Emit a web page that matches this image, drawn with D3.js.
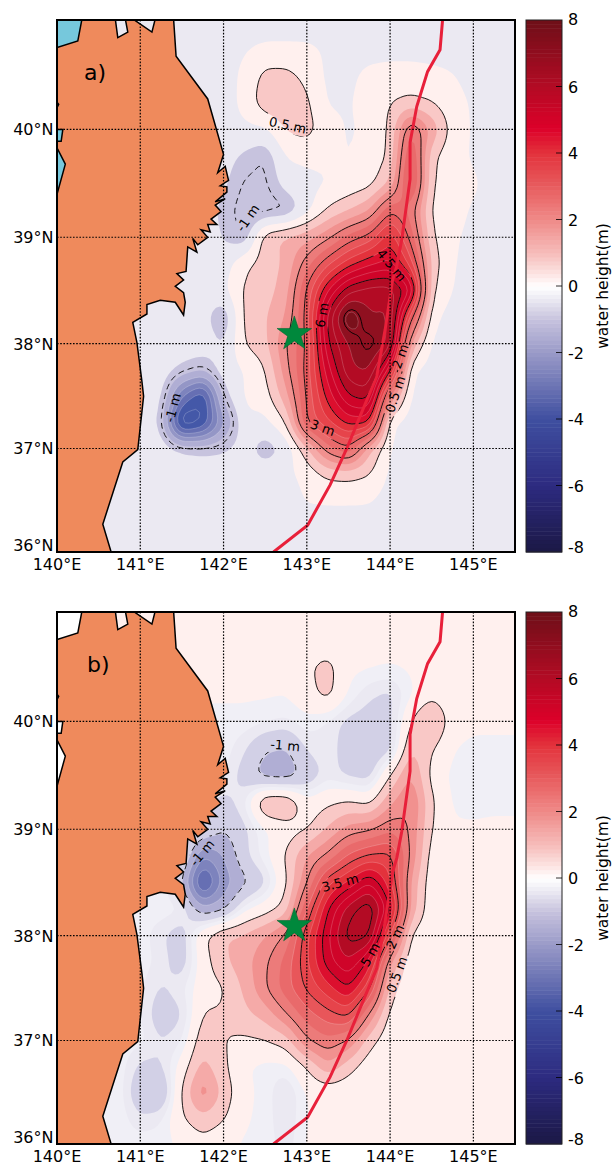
<!DOCTYPE html>
<html><head><meta charset="utf-8">
<script src="https://cdn.jsdelivr.net/npm/d3@7"></script>
<style>html,body{margin:0;padding:0;background:#fff}svg{display:block}text{font-family:"DejaVu Sans",sans-serif;fill:#000}</style>
</head><body><svg id="c" width="613" height="1166"></svg>
<script>
const lons = d3.range(0,23).map(i=>140+i*0.25);
const lats = d3.range(0,21).map(i=>41-i*0.25);
const lonTicks=[140,141,142,143,144,145];
const latTicks=[36,37,38,39,40];
const barTicks=[-8,-6,-4,-2,0,2,4,6,8];
const n=-.2;
const heightA=[
[n,n,n,n,n,n,n,n,n,n,n,n,n,n,n,n,n,n,n,n,n,n,n],
[n,n,n,n,n,n,n,n,n,-.05,.05,.05,.05,-.05,n,n,n,n,n,n,n,n,n],
[n,n,n,n,n,n,n,n,n,.1,.65,.65,.35,-.1,-.1,.12,.2,.2,.12,.02,-.15,n,n],
[n,n,n,n,n,n,n,n,n,.12,.85,.95,.6,-.05,-.05,.2,.48,.6,.48,.15,-.05,n,n],
[n,n,n,n,n,n,n,n,-.1,-.1,-.1,.55,.7,.2,-.05,.08,.55,2.6,1.4,.25,-.05,n,n],
[n,n,n,n,n,n,n,n,-.3,-.6,-.85,.03,.12,.08,-.02,.18,.55,3.3,.6,.15,-.05,n,n],
[n,n,n,n,n,n,n,n,-.4,-.87,-.88,-.3,-.15,-.01,.12,.3,1,3.5,.5,.15,.08,n,n],
[n,n,n,n,n,n,n,n,-.65,-.98,-.98,-.95,-.2,.55,.95,1.45,3,2.3,.35,.15,-.05,n,n],
[n,n,n,n,n,n,n,-.15,-.55,-.85,.8,1.1,1.3,1.85,2.7,3.2,4.4,2.8,.55,.06,-.1,n,n],
[n,n,n,n,n,n,n,n,-.25,.4,.72,1.1,2.3,3.4,4.3,4.9,5.2,3.8,.8,.02,-.15,n,n],
[n,n,n,n,n,n,n,n,-.1,.58,.78,1.25,3.1,5,6.4,6.8,6.8,5.8,.5,-.02,n,n,n],
[n,n,n,n,n,n,n,-.3,-.95,.62,.95,1.5,3.2,6.2,8.1,7,7.1,3.2,.15,n,n,n,n],
[n,n,n,n,n,n,n,n,-.55,.52,.85,2,3,6,7,7.7,7,1.3,-.1,n,n,n,n],
[n,n,n,n,n,n,-.6,-.85,n,-.01,.45,1.8,3.2,5.3,6.9,7.1,4.8,.05,n,n,n,n,n],
[n,n,n,n,n,-.35,-2.5,-3.6,-.7,.06,.25,1.3,3.1,4.7,6,6.3,1.9,-.1,n,n,n,n,n],
[n,n,n,n,n,-.55,-4.2,-3.6,-1.6,-.1,-.15,.45,3.1,3.9,4.7,4.7,.05,n,n,n,n,n,n],
[n,n,n,n,n,n,-.5,-.6,-.55,-.3,-.78,-.4,.85,2.3,3,1.1,-.05,n,n,n,n,n,n],
[n,n,n,n,n,n,n,n,n,n,n,-.1,.12,.6,.65,.5,-.1,n,n,n,n,n,n],
[n,n,n,n,n,n,n,n,n,n,n,n,.03,.04,.04,.03,n,n,n,n,n,n,n],
[n,n,n,n,n,n,n,n,n,n,n,n,n,n,n,n,n,n,n,n,n,n,n],
[n,n,n,n,n,n,n,n,n,n,n,n,n,n,n,n,n,n,n,n,n,n,n]];
const p=.1, m=-.1;
const heightB=[
[p,p,p,p,p,p,p,p,p,p,p,p,p,p,p,p,p,p,p,p,p,p,p],
[p,p,p,p,p,p,p,p,p,p,p,p,p,p,p,p,p,p,p,p,p,p,p],
[p,p,p,p,p,p,p,p,p,p,p,p,.42,.7,p,.05,0,.05,p,p,p,p,p],
[p,p,p,p,p,p,p,.05,.05,.05,.05,.02,.3,.7,-.05,-.45,-.6,-.05,.35,p,p,p,p],
[m,m,m,m,m,m,m,m,m,m,-.2,-.3,m,-.3,-.62,-.7,-.65,.5,1.2,.2,p,p,p],
[m,m,m,m,m,m,m,m,m,-.45,-.95,-1.05,-.45,-.3,-.75,-.85,-.7,1,.55,.02,m,m,m],
[m,m,m,m,m,m,m,m,-.2,-.7,-1.25,-1.3,-.85,-.35,-.6,-.7,.5,1.6,.3,m,-.15,-.15,-.15],
[m,m,m,m,m,m,m,-.4,-.65,-.3,1.1,1.1,.15,.4,.55,.35,1.4,2.1,.55,-.05,m,m,m],
[m,m,m,m,m,m,m,-.5,-.95,-.6,-.05,.25,.42,1.05,1.7,1.9,2.4,1.95,.45,.05,.05,p,p],
[m,m,m,m,m,m,-.3,-2,-1.5,-.6,m,.55,1.5,2.1,3.1,3.6,3.7,1.9,.2,p,p,p,p],
[m,m,m,m,m,m,-.9,-3.5,-1.8,-1.1,-.6,.4,1.95,3.9,4.6,5.6,4.2,1.4,.12,p,p,p,p],
[m,m,m,m,m,m,-.2,-1.3,-1.1,m,.25,.7,3,5,6.3,7,5.2,1.3,.08,p,p,p,p],
[m,m,m,m,m,-.45,-.75,.4,1,1.1,1.5,2.1,3.9,5.4,6.8,6.7,3.5,.35,p,p,p,p,p],
[m,m,m,m,m,-.35,-.75,.25,.9,1.3,1.9,2.7,3.9,5.3,6,4.9,1.5,p,p,p,p,p,p],
[m,m,m,m,-.2,-.55,-.3,.25,.45,1.1,1.95,2.8,3.6,4.3,5.05,3.7,.7,p,p,p,p,p,p],
[m,m,m,m,-.2,-.8,-.55,.55,.55,.85,1.2,1.95,2.8,3.3,3.7,1.9,.3,p,p,p,p,p,p],
[m,m,m,m,-.15,-.5,-.3,.85,.5,.4,.47,.75,1.95,2.4,1.95,.7,p,p,p,p,p,p,p],
[m,m,m,m,-.6,-.55,.2,1.2,.6,.05,-.12,-.12,.5,1.4,.7,.15,p,p,p,p,p,p,p],
[m,m,m,m,-.9,-1.05,.55,1.9,.8,p,m,-.55,.05,p,p,p,p,p,p,p,p,p,p],
[m,m,m,m,-.45,-.3,.45,.85,.55,.05,m,-.5,.02,p,p,p,p,p,p,p,p,p,p],
[m,m,m,m,m,m,.05,.3,p,-.05,m,-.4,.05,p,p,p,p,p,p,p,p,p,p]];
const coastLon=[140.30,140.25,140,140,140.02,140,140,140.07,140.05,140,140,140.10,140,140,140.65,140.55,140.79,140.97,141.04,141.02,140.96,140.91,141.08,141.08,141.24,141.42,141.52,141.54,141.52,141.42,141.52,141.44,141.55,141.57,141.68,141.63,141.69,141.81,141.73,141.84,141.81,141.92,141.85,141.97,141.9,142.02,141.9,142.04,142.04,141.96,142.06,142.02,141.93,142.0,141.81,141.43,141.4,141.18,141.14,140.91,140.82,140.85,140.73,140.7];
const coastLat=[41.01,40.81,40.75,40.25,40.23,40.2,40,40,39.89,39.89,39.83,39.68,39.40,36,36,36.27,36.87,36.99,37.5,37.64,38.01,38.2,38.28,38.37,38.41,38.39,38.27,38.39,38.48,38.54,38.6,38.66,38.68,38.91,38.86,38.99,38.93,39.0,39.07,39.05,39.12,39.12,39.17,39.24,39.3,39.36,39.33,39.42,39.47,39.48,39.53,39.66,39.6,39.77,40.28,40.67,41.01,41.01,40.89,41.01,41.01,40.89,40.84,41.01];
const trenchLon=[144.63,144.6,144.45,144.32,144.24,144.24,144.14,144.08,144.03,143.94,143.84,143.64,143.48,143.28,143.01,142.6];
const trenchLat=[41,40.73,40.53,40.21,39.88,39.54,38.98,38.73,38.6,38.13,37.69,37.31,37,36.65,36.26,36];
const epicenter=[142.85,38.09];
const bandFloor=[-8,-6,-4,-3,-2.5,-2,-1.5,-1,-.5,-.25,0,.5,1,1.5,2,2.5,3,3.5,4,4.5,5,6,7,7.5];
const bandColor=["#1b1845","#2d2b80","#4458a8","#666fb3","#7d83bd","#9496c6","#b0aed4","#c7c3de","#ebe9f2","#f0eff6","#fff0ee","#f9c8c6","#f5aaa8","#f1918f","#ec7b7a","#e96a6b","#e8565a","#e6444b","#e3323c","#dc0f2e","#cf0429","#b30b24","#8f1020","#7a101b"];
const barValue=[-8,-6,-4,-2,-1,-.4,0,.4,1,2,3,4,4.75,6,8];
const barColor=["#1b1845","#2d2b80","#3f4fa0","#9a9ac8","#c7c3de","#ebe9f2","#ffffff","#fce2e0","#f6bcba","#ef8a88","#e75c5e","#e3323c","#dc0029","#b30b24","#6e0f18"];
const levelsA=[-8,-7.5,-7,-6.5,-6,-5.5,-5,-4.5,-4,-3.5,-3,-2.5,-2,-1.5,-1,-.5,0,.5,1,1.5,2,2.5,3,3.5,4,4.5,5,5.5,6,6.5,7,7.5];
const levelsB=[-8,-7.5,-7,-6.5,-6,-5.5,-5,-4.5,-4,-3.5,-3,-2.5,-2,-1.5,-1,-.5,-.25,0,.5,1,1.5,2,2.5,3,3.5,4,4.5,5,5.5,6,6.5,7,7.5];
const linesA=[-.8,.5,2,3,4.5,6,7.4];
const linesB=[-.97,.5,2,3.5,5,6.5];
const labelTextA=["0.5 m","-1 m","4.5 m","6 m","2 m","0.5 m","3 m","-1 m"];
const labelLonA=[142.77,142.29,144.02,143.18,144.12,144.06,143.19,141.39];
const labelLatA=[40.04,39.18,38.74,38.27,37.88,37.52,37.2,37.39];
const labelRotA=[12,-55,50,-80,-70,-72,20,-75];
const labelTextB=["-1 m","-1 m","3.5 m","5 m","2 m","0.5 m"];
const labelLonB=[142.74,141.74,143.4,143.76,144.06,144.08];
const labelLatB=[39.78,38.78,38.5,37.82,37.99,37.63];
const labelRotB=[5,-50,-15,-60,-65,-70];

const W=613,H=1166,k=6;
const svg=d3.select("#c");
const color=d3.scaleThreshold().domain(bandFloor.slice(1)).range(bandColor);
const barScaleColor=d3.scaleLinear().domain(barValue).range(barColor);
const merc=d=>Math.log(Math.tan(Math.PI/4+d*Math.PI/360));
const x=d3.scaleLinear().domain([140,145.5]).range([57,515]);

function upsample(g){
  const nx=(lons.length-1)*k+1, ny=(lats.length-1)*k+1, data=new Float64Array(nx*ny);
  for(let j=0;j<ny;j++){const fy=j/k,j0=Math.min(Math.floor(fy),lats.length-2),ty=fy-j0;
    for(let i=0;i<nx;i++){const fx=i/k,i0=Math.min(Math.floor(fx),lons.length-2),tx=fx-i0;
      data[j*nx+i]=(1-ty)*((1-tx)*g[j0][i0]+tx*g[j0][i0+1])+ty*((1-tx)*g[j0+1][i0]+tx*g[j0+1][i0+1]);}}
  d3.blur2({data,width:nx,height:ny},1);
  return {data,nx,ny};
}
function panel(o){
  const y0=o.top,y1=o.top+532;
  const yM=d3.scaleLinear().domain([merc(36),merc(41)]).range([y1,y0]);
  const y=d=>yM(merc(d));
  const f=upsample(o.height);
  const gridPath=d3.geoPath(d3.geoTransform({point(gx,gy){
    this.stream.point(x(140+(gx-.5)/k*.25),y(41-(gy-.5)/k*.25));}}));
  const cl="clip"+o.id;
  svg.append("clipPath").attr("id",cl).append("rect").attr("x",57).attr("y",y0).attr("width",458).attr("height",532);
  const g=svg.append("g").attr("clip-path",`url(#${cl})`);
  g.append("rect").attr("x",57).attr("y",y0).attr("width",458).attr("height",532).attr("fill",color(-8));
  o.levels.forEach(t=>{
    const c=d3.contours().size([f.nx,f.ny]).thresholds([t])(f.data)[0];
    const s=(t>=3)?"rgba(255,255,255,.28)":(t<=-1.5?"rgba(255,255,255,.3)":"none");
    g.append("path").attr("d",gridPath(c)).attr("fill",t===-1?o.lobe:color(t+.001)).attr("stroke",s).attr("stroke-width",.7);
  });
  g.append("rect").attr("x",57).attr("y",y0).attr("width",x(140.4)-57).attr("height",y(39.2)-y0).attr("fill",o.sea);
  const mask="mask"+o.id;
  const mk=svg.append("mask").attr("id",mask).attr("maskUnits","userSpaceOnUse").attr("x",0).attr("y",y0).attr("width",W).attr("height",532);
  mk.append("rect").attr("x",0).attr("y",y0).attr("width",W).attr("height",532).attr("fill","#fff");
  o.labelText.forEach((t,i)=>{
    const w=t.length*8+3;
    mk.append("rect").attr("x",-w/2).attr("y",-8).attr("width",w).attr("height",16).attr("fill","#000")
      .attr("transform",`translate(${x(o.labelLon[i])},${y(o.labelLat[i])}) rotate(${o.labelRot[i]})`);
  });
  const cg=g.append("g").attr("mask",`url(#${mask})`);
  o.lines.forEach(t=>{
    const c=d3.contours().size([f.nx,f.ny]).thresholds([t])(f.data)[0];
    cg.append("path").attr("d",gridPath(c)).attr("fill","none").attr("stroke","#000")
      .attr("stroke-width",.9).attr("stroke-dasharray",t<0?"6,4":null);
  });
  const line=d3.line().x(i=>x(coastLon[i])).y(i=>y(coastLat[i])).curve(d3.curveLinearClosed);
  g.append("path").attr("d",line(d3.range(coastLon.length))).attr("fill","#ef8a5c").attr("stroke","#000").attr("stroke-width",1.5).attr("stroke-linejoin","miter");
  const tl=d3.line().x(i=>x(trenchLon[i])).y(i=>y(trenchLat[i]));
  g.append("path").attr("d",tl(d3.range(trenchLon.length))).attr("fill","none").attr("stroke","#e8203a").attr("stroke-width",3);
  const dots=(a,b,c,d)=>g.append("line").attr("x1",a).attr("y1",b).attr("x2",c).attr("y2",d).attr("stroke","#000").attr("stroke-width",1.2).attr("stroke-dasharray","1.6,1.6");
  lonTicks.slice(1).forEach(v=>dots(x(v),y0,x(v),y1));
  latTicks.slice(1).forEach(v=>dots(57,y(v),515,y(v)));
  g.append("path").attr("transform",`translate(${x(epicenter[0])},${y(epicenter[1])})`)
    .attr("d",d3.symbol().type(d3.symbolStar).size(370)()).attr("fill","#00883c").attr("stroke","#063").attr("stroke-width",.6);
  o.labelText.forEach((t,i)=>{
    g.append("text").text(t).attr("font-size",13).attr("text-anchor","middle").attr("dy",".36em")
      .attr("transform",`translate(${x(o.labelLon[i])},${y(o.labelLat[i])}) rotate(${o.labelRot[i]})`);
  });
  svg.append("text").text(o.tag).attr("x",o.tagX).attr("y",y0+60).attr("font-size",22);
  svg.append("rect").attr("x",57).attr("y",y0).attr("width",458).attr("height",532).attr("fill","none").attr("stroke","#000").attr("stroke-width",2);
  lonTicks.forEach(v=>svg.append("text").text(v+"°E").attr("x",x(v)).attr("y",y1+18).attr("font-size",16).attr("text-anchor","middle"));
  latTicks.forEach(v=>svg.append("text").text(v+"°N").attr("x",53.5).attr("y",y(v)+(v==36?-1:6)).attr("font-size",16).attr("text-anchor","end"));
  const by=d3.scaleLinear().domain([-8,8]).range([y1,y0]);
  d3.range(-8,8,.125).forEach(v=>{
    svg.append("rect").attr("x",526).attr("y",by(v+.125)).attr("width",36).attr("height",by(v)-by(v+.125)+.5).attr("fill",barScaleColor(v+.0625));
  });
  svg.append("rect").attr("x",526).attr("y",y0).attr("width",36).attr("height",532).attr("fill","none").attr("stroke","#222").attr("stroke-width",1);
  barTicks.forEach(v=>{
    if(v>-8&&v<8) svg.append("line").attr("x1",556).attr("x2",562).attr("y1",by(v)).attr("y2",by(v)).attr("stroke","#000").attr("stroke-width",.8);
    svg.append("text").text(v).attr("x",568).attr("y",by(v)+(v==8?5:v==-8?1:6)).attr("font-size",16);
  });
  svg.append("text").text("water height(m)").attr("font-size",15.5).attr("text-anchor","middle")
    .attr("transform",`translate(608,${y0+266}) rotate(-90)`);
}
panel({id:"a",top:20,height:heightA,levels:levelsA,lines:linesA,sea:"#76c8dc",lobe:"#c7c3de",tag:"a)",tagX:84,labelText:labelTextA,labelLon:labelLonA,labelLat:labelLatA,labelRot:labelRotA});
panel({id:"b",top:612,height:heightB,levels:levelsB,lines:linesB,sea:"#ffffff",lobe:"#d2d0e6",tag:"b)",tagX:87,labelText:labelTextB,labelLon:labelLonB,labelLat:labelLatB,labelRot:labelRotB});
</script></body></html>
